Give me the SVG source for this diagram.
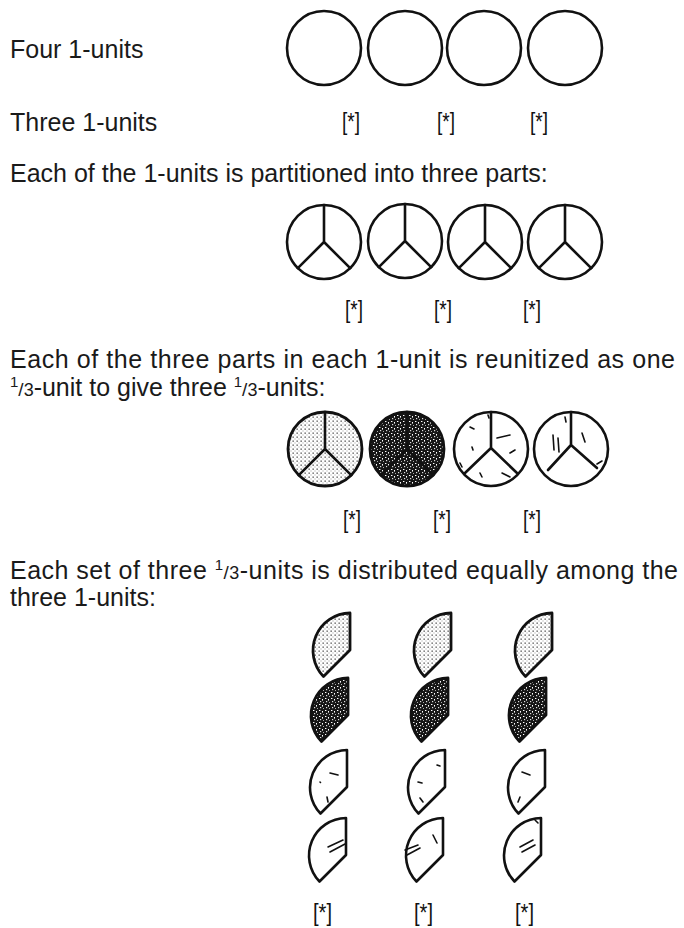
<svg xmlns="http://www.w3.org/2000/svg" width="684" height="928" viewBox="0 0 684 928">
<defs>
<style>
.t{font-family:"Liberation Sans",Arial,sans-serif;font-size:25px;fill:#1a1a1a}
.s{font-family:"Liberation Sans",Arial,sans-serif;font-size:23px;fill:#111}
.c{fill:none;stroke:#111;stroke-width:2.6}
.l{fill:none;stroke:#111;stroke-width:2.6;stroke-linecap:round;stroke-linejoin:round}
.m{fill:none;stroke:#111;stroke-width:1.6;stroke-linecap:round}
.pl{fill:url(#light);stroke:#111;stroke-width:2.8;stroke-linejoin:round}
.pd{fill:url(#dark);stroke:#111;stroke-width:2.8;stroke-linejoin:round}
.pw{fill:#fff;stroke:#111;stroke-width:2.6;stroke-linejoin:round}
</style>
<pattern id="light" width="4" height="4" patternUnits="userSpaceOnUse">
<rect width="4" height="4" fill="#fff"/>
<rect x="0.5" y="0.5" width="1.3" height="1.3" fill="#444"/>
<rect x="2.5" y="2.5" width="1" height="1" fill="#999"/>
</pattern>
<pattern id="dark" width="6" height="6" patternUnits="userSpaceOnUse">
<rect width="6" height="6" fill="#161616"/>
<rect x="1" y="1" width="1.4" height="1" fill="#fff"/>
<rect x="4" y="2" width="1" height="1.6" fill="#fff"/>
<rect x="2" y="4" width="1.2" height="1.2" fill="#ddd"/>
<rect x="5" y="5" width="0.8" height="0.8" fill="#fff"/>
</pattern>
<path id="piece" d="M0,-37 L0,0 L-26.5,26.5 A37.5,37.5 0 0 1 0,-37 Z"/>
</defs>
<rect width="684" height="928" fill="#fff"/>

<g id="labels">
<text class="t" x="10" y="58">Four 1-units</text>
<text class="t" x="10" y="131">Three 1-units</text>
<text class="t" x="10" y="182">Each of the 1-units is partitioned into three parts:</text>
<text class="t" x="10" y="368" textLength="665" lengthAdjust="spacing">Each of the three parts in each 1-unit is reunitized as one</text>
<text class="t" x="10" y="396"><tspan font-size="15" dy="-9">1</tspan><tspan font-size="19" dy="9">/</tspan><tspan font-size="18">3</tspan>-unit to give three <tspan font-size="15" dy="-9">1</tspan><tspan font-size="19" dy="9">/</tspan><tspan font-size="18">3</tspan>-units:</text>
<text class="t" x="10" y="579" textLength="668" lengthAdjust="spacing">Each set of three <tspan font-size="15" dy="-9">1</tspan><tspan font-size="19" dy="9">/</tspan><tspan font-size="18">3</tspan>-units is distributed equally among the</text>
<text class="t" x="10" y="606">three 1-units:</text>
</g>

<g id="row1-units">
<circle class="c" cx="324" cy="48" r="37"/>
<circle class="c" cx="405" cy="48" r="37"/>
<circle class="c" cx="484" cy="48" r="37"/>
<circle class="c" cx="565" cy="48" r="37"/>
</g>
<g id="row1-marks">
<text class="s" x="342" y="130" textLength="18" lengthAdjust="spacingAndGlyphs">[*]</text>
<text class="s" x="437" y="130" textLength="18" lengthAdjust="spacingAndGlyphs">[*]</text>
<text class="s" x="530" y="130" textLength="18" lengthAdjust="spacingAndGlyphs">[*]</text>
</g>

<g id="row2-partitioned">
<g id="p1"><circle class="c" cx="324" cy="242" r="37"/><path class="l" d="M324,205 V242 L297.8,268.2 M324,242 L350.2,268.2"/></g>
<g id="p2"><circle class="c" cx="405" cy="241" r="37"/><path class="l" d="M405,204 V241 L378.8,267.2 M405,241 L431.2,267.2"/></g>
<g id="p3"><circle class="c" cx="485" cy="242" r="37"/><path class="l" d="M485,205 V242 L458.8,268.2 M485,242 L511.2,268.2"/></g>
<g id="p4"><circle class="c" cx="565" cy="242" r="37"/><path class="l" d="M565,205 V242 L538.8,268.2 M565,242 L591.2,268.2"/></g>
</g>
<g id="row2-marks">
<text class="s" x="345" y="318" textLength="18" lengthAdjust="spacingAndGlyphs">[*]</text>
<text class="s" x="434" y="318" textLength="18" lengthAdjust="spacingAndGlyphs">[*]</text>
<text class="s" x="523" y="318" textLength="18" lengthAdjust="spacingAndGlyphs">[*]</text>
</g>

<g id="row3-reunitized">
<g id="u1"><circle class="pl" cx="325" cy="449" r="37"/><path class="l" d="M325,412 V449 L298.8,475.2 M325,449 L351.2,475.2"/></g>
<g id="u2"><circle class="pd" cx="407" cy="449" r="37"/><path class="l" d="M407,412 V449 L380.8,475.2 M407,449 L433.2,475.2"/></g>
<g id="u3"><circle class="c" cx="491" cy="449" r="37"/><path class="l" d="M491,412 V448 L465,473 M491,448 L517,473"/>
<path class="m" d="M470,427 l4,2 M472,447 l1,3 M497,438 l13,-3 M510,453 l5,-3 M480,473 l2,4 M502,473 l8,4 M488,415 l1,3 M460,463 l2,4"/></g>
<g id="u4"><circle class="c" cx="571" cy="449" r="37"/><path class="l" d="M571,412 V445 L548,470 M571,445 L597,468"/>
<path class="m" d="M553,435 l1,15 M558,438 l1,14 M565,417 l1,5 M582,433 l3,9 M597,464 l5,-3"/></g>
</g>
<g id="row3-marks">
<text class="s" x="343" y="528" textLength="18" lengthAdjust="spacingAndGlyphs">[*]</text>
<text class="s" x="433" y="528" textLength="18" lengthAdjust="spacingAndGlyphs">[*]</text>
<text class="s" x="523" y="528" textLength="18" lengthAdjust="spacingAndGlyphs">[*]</text>
</g>

<g id="row4-distributed">
<g id="col1">
<use href="#piece" class="pl" x="350" y="650"/>
<use href="#piece" class="pd" x="348" y="715"/>
<use href="#piece" class="pw" x="347" y="787"/>
<path class="m" d="M330,773 l8,2 M320,782 l0.5,0.5 M327,797 l1,5"/>
<use href="#piece" class="pw" x="346" y="855"/>
<path class="m" d="M328,847 l15,-7 M330,852 l15,-8"/>
</g>
<g id="col2">
<use href="#piece" class="pl" x="451" y="650"/>
<use href="#piece" class="pd" x="448" y="715"/>
<use href="#piece" class="pw" x="445" y="787"/>
<path class="m" d="M437,765 l3,1 M418,782 l4,1 M420,798 l3,4"/>
<use href="#piece" class="pw" x="443" y="855"/>
<path class="m" d="M405,850 l13,-5 M407,855 l13,-7 M433,835 l4,8"/>
</g>
<g id="col3">
<use href="#piece" class="pl" x="552" y="650"/>
<use href="#piece" class="pd" x="546" y="715"/>
<use href="#piece" class="pw" x="545" y="787"/>
<path class="m" d="M522,772 l8,3 M520,797 l-2,5"/>
<use href="#piece" class="pw" x="541" y="855"/>
<path class="m" d="M520,847 l13,-7 M522,852 l13,-7 M535,820 l3,3"/>
</g>
</g>
<g id="row4-marks">
<text class="s" x="313" y="921" textLength="19" lengthAdjust="spacingAndGlyphs">[*]</text>
<text class="s" x="414" y="921" textLength="19" lengthAdjust="spacingAndGlyphs">[*]</text>
<text class="s" x="515" y="921" textLength="19" lengthAdjust="spacingAndGlyphs">[*]</text>
</g>
<g id="connectors"></g>
</svg>
